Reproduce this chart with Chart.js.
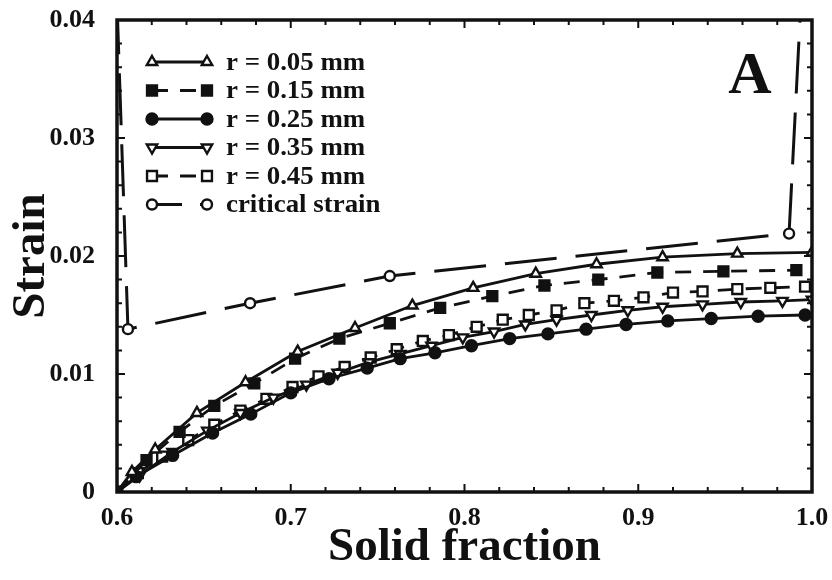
<!DOCTYPE html>
<html>
<head>
<meta charset="utf-8">
<script src="https://cdn.jsdelivr.net/npm/chart.js@4"></script>
<style>
  body { margin: 0; background: #fff; }
  canvas { display: block; }
</style>
</head>
<body>
<canvas id="strainChart" width="832" height="580"></canvas>
<script>
// solid fraction (x) and strain (y)
let r005X = [0.6, 0.6086, 0.622, 0.646, 0.674, 0.704, 0.737, 0.770, 0.805, 0.841, 0.876, 0.914, 0.957, 1.0];
let r005Y = [0, 0.0017, 0.0036, 0.0067, 0.0093, 0.0119, 0.0139, 0.0158, 0.0173, 0.0185, 0.0193, 0.0199, 0.0202, 0.0203];

let r015X = [0.6, 0.617, 0.636, 0.656, 0.679, 0.7025, 0.728, 0.757, 0.786, 0.816, 0.846, 0.877, 0.911, 0.949, 0.991];
let r015Y = [0, 0.0027, 0.0051, 0.0073, 0.0092, 0.0113, 0.0130, 0.0143, 0.0156, 0.0166, 0.0175, 0.0180, 0.0186, 0.0187, 0.0188];

let r025X = [0.6, 0.611, 0.632, 0.655, 0.677, 0.700, 0.722, 0.744, 0.763, 0.783, 0.804, 0.826, 0.848, 0.870, 0.893, 0.917, 0.942, 0.969, 0.996];
let r025Y = [0, 0.0013, 0.0031, 0.0050, 0.0066, 0.0084, 0.0096, 0.0105, 0.0113, 0.0118, 0.0124, 0.0130, 0.0134, 0.0138, 0.0142, 0.0145, 0.0147, 0.0149, 0.0150];

let r035X = [0.6, 0.613, 0.632, 0.652, 0.671, 0.690, 0.709, 0.727, 0.745, 0.763, 0.781, 0.799, 0.817, 0.835, 0.853, 0.873, 0.894, 0.914, 0.937, 0.959, 0.983, 1.0];
let r035Y = [0, 0.0014, 0.0034, 0.0052, 0.0067, 0.0080, 0.0091, 0.0101, 0.0110, 0.0117, 0.0124, 0.0131, 0.0136, 0.0142, 0.0146, 0.0150, 0.0154, 0.0157, 0.0159, 0.0161, 0.0162, 0.0163];

let r045X = [0.6, 0.612, 0.626, 0.641, 0.656, 0.671, 0.686, 0.701, 0.716, 0.731, 0.746, 0.761, 0.776, 0.791, 0.807, 0.822, 0.837, 0.853, 0.869, 0.886, 0.903, 0.920, 0.937, 0.957, 0.976, 0.996];
let r045Y = [0, 0.0016, 0.0030, 0.0044, 0.0057, 0.0069, 0.0079, 0.0089, 0.0098, 0.0106, 0.0114, 0.0121, 0.0128, 0.0133, 0.0140, 0.0146, 0.0150, 0.0154, 0.0160, 0.0162, 0.0165, 0.0169, 0.0170, 0.0172, 0.0173, 0.0174];

let criticalX = [0.6, 0.6063, 0.6766, 0.757, 0.9868, 0.9936];
let criticalY = [0.0415, 0.0138, 0.0160, 0.0183, 0.0219, 0.0415];

let seriesLabels = ['r = 0.05 mm', 'r = 0.15 mm', 'r = 0.25 mm', 'r = 0.35 mm', 'r = 0.45 mm', 'critical strain'];
let xTicks = [0.6, 0.7, 0.8, 0.9, 1.0];
let yTicks = [0, 0.01, 0.02, 0.03, 0.04];

const SERIF = "'Liberation Serif', 'Times New Roman', serif";

function toPoints(xs, ys) {
    return xs.map((x, i) => ({ x: x, y: ys[i] }));
}

function makeDataset(label, xs, ys, style) {
    return {
        label: label,
        data: toPoints(xs, ys),
        borderColor: '#111',
        borderWidth: style.width || 2.8,
        borderDash: style.dash || [],
        legendDash: style.legendDash || style.dash || [],
        pointStyle: style.point,
        pointRotation: style.rotation || 0,
        pointRadius: style.radius,
        pointBorderWidth: 2.4,
        pointBorderColor: '#111',
        pointBackgroundColor: style.filled ? '#111' : '#fff',
        tension: 0,
        fill: false
    };
}

let datasets = [
    makeDataset(seriesLabels[0], r005X, r005Y, { point: 'triangle', radius: 6 }),
    makeDataset(seriesLabels[1], r015X, r015Y, { point: 'rect', radius: 7, filled: true, dash: [16, 12] }),
    makeDataset(seriesLabels[2], r025X, r025Y, { point: 'circle', radius: 5.5, filled: true }),
    makeDataset(seriesLabels[3], r035X, r035Y, { point: 'triangle', rotation: 180, radius: 6 }),
    makeDataset(seriesLabels[4], r045X, r045Y, { point: 'rect', radius: 7, dash: [16, 12] }),
    makeDataset(seriesLabels[5], criticalX, criticalY, { point: 'circle', radius: 5, width: 3, dash: [52, 19], legendDash: [30, 18] })
];

// frame, inward ticks, legend and panel letter
const framePlugin = {
    id: 'frame',
    afterDraw(chart) {
        let ctx = chart.ctx;
        let area = chart.chartArea;
        let xs = chart.scales.x;
        let ys = chart.scales.y;
        ctx.save();
        ctx.strokeStyle = '#111';
        ctx.lineWidth = 2;
        ctx.setLineDash([]);
        for (let i = 0; i <= 20; i++) {
            let px = xs.getPixelForValue(0.6 + i * 0.02);
            let len = i % 5 === 0 ? 8 : 5;
            ctx.beginPath();
            ctx.moveTo(px, area.bottom); ctx.lineTo(px, area.bottom - len);
            ctx.moveTo(px, area.top); ctx.lineTo(px, area.top + len);
            ctx.stroke();
        }
        for (let i = 0; i <= 20; i++) {
            let py = ys.getPixelForValue(i * 0.002);
            let len = i % 5 === 0 ? 8 : 5;
            ctx.beginPath();
            ctx.moveTo(area.left, py); ctx.lineTo(area.left + len, py);
            ctx.moveTo(area.right, py); ctx.lineTo(area.right - len, py);
            ctx.stroke();
        }
        ctx.lineWidth = 3.5;
        ctx.strokeRect(area.left, area.top, area.right - area.left, area.bottom - area.top);

        // legend
        let rowY = 62;
        chart.data.datasets.forEach(ds => {
            ctx.lineWidth = ds.borderWidth;
            ctx.setLineDash(ds.legendDash);
            ctx.beginPath();
            ctx.moveTo(152, rowY);
            ctx.lineTo(207, rowY);
            ctx.stroke();
            ctx.setLineDash([]);
            ctx.lineWidth = 2.4;
            ctx.fillStyle = ds.pointBackgroundColor;
            let opts = { pointStyle: ds.pointStyle, rotation: ds.pointRotation, radius: ds.pointRadius, borderWidth: 2.4 };
            Chart.helpers.drawPoint(ctx, opts, 152, rowY);
            Chart.helpers.drawPoint(ctx, opts, 207, rowY);
            ctx.save();
            ctx.translate(226, rowY);
            ctx.scale(1.12, 1.05);
            ctx.fillStyle = '#111';
            ctx.font = 'bold 24px ' + SERIF;
            ctx.textBaseline = 'middle';
            ctx.textAlign = 'left';
            ctx.fillText(ds.label, 0, 1);
            ctx.restore();
            rowY += 28.5;
        });

        ctx.fillStyle = '#111';
        ctx.font = 'bold 60px ' + SERIF;
        ctx.textAlign = 'center';
        ctx.textBaseline = 'alphabetic';
        ctx.fillText('A', 750, 93);
        ctx.restore();
    }
};

let ctx = document.getElementById('strainChart').getContext('2d');
let strainChart = new Chart(ctx, {
    type: 'line',
    data: { datasets: datasets },
    options: {
        responsive: false,
        animation: false,
        layout: { padding: { top: 20, right: 20, left: 0, bottom: 0 } },
        plugins: {
            legend: { display: false },
            tooltip: { enabled: false }
        },
        scales: {
            x: {
                type: 'linear',
                min: 0.6,
                max: 1.0,
                afterFit: s => { s.height = 88; s.paddingLeft = 0; s.paddingRight = 0; },
                afterBuildTicks: s => { s.ticks = xTicks.map(v => ({ value: v })); },
                grid: { display: false },
                border: { display: false },
                ticks: {
                    padding: 3,
                    color: '#111',
                    font: { family: SERIF, size: 26, weight: 'bold' },
                    callback: v => v.toFixed(1)
                },
                title: {
                    display: true,
                    text: 'Solid fraction',
                    color: '#111',
                    padding: { top: 0, bottom: 4 },
                    font: { family: SERIF, size: 47, weight: 'bold' }
                }
            },
            y: {
                min: 0,
                max: 0.04,
                afterFit: s => { s.width = 117; s.paddingTop = 0; s.paddingBottom = 0; },
                afterBuildTicks: s => { s.ticks = yTicks.map(v => ({ value: v })); },
                grid: { display: false },
                border: { display: false },
                ticks: {
                    padding: 14,
                    color: '#111',
                    font: { family: SERIF, size: 26, weight: 'bold' },
                    callback: v => v === 0 ? '0' : v.toFixed(2)
                },
                title: {
                    display: true,
                    text: 'Strain',
                    color: '#111',
                    padding: { top: 4, bottom: 0 },
                    font: { family: SERIF, size: 47, weight: 'bold' }
                }
            }
        }
    },
    plugins: [framePlugin]
});
</script>
</body>
</html>
